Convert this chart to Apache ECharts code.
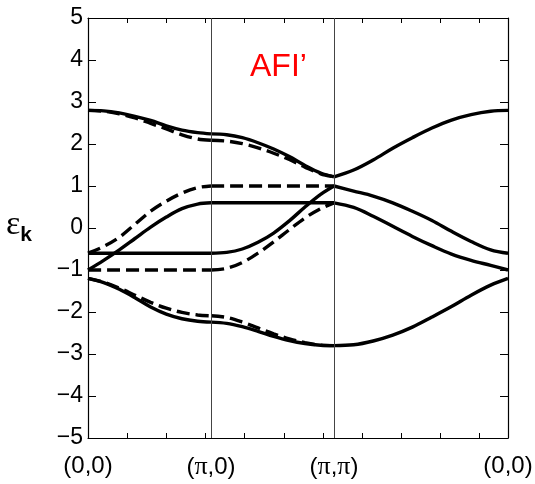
<!DOCTYPE html>
<html><head><meta charset="utf-8">
<script src="https://cdn.jsdelivr.net/npm/echarts@6/dist/echarts.min.js"></script>
<style>html,body{margin:0;padding:0;background:#fff}#c{width:535px;height:484px}</style>
</head><body><div id="c"></div>
<script>
const PI = Math.PI;
// high-symmetry points along the path (0,0)->(pi,0)->(pi,pi)->(0,0)
const pathNodes = [0, PI, 2 * PI, (2 + Math.SQRT2) * PI];
const nodeLabels = ['(0,0)', '({p|π},0)', '({p|π},{p|π})', '(0,0)'];
const xMinorTicks = [1, 2, 3, 4, 5, 6, 7, 8, 9, 10];
const yTickValues = [-5, -4, -3, -2, -1, 0, 1, 2, 3, 4, 5];

// sample positions within each segment
const segT = [0, 0.4, 0.8, 1.2, 1.6, 2.0, 2.4, 2.8, 3.1416];
const diagS = [0, 0.5, 1.0, 1.5, 2.0, 2.5, 3.0, 3.5, 4.0, 4.443];

// segment 1: (0,0) -> (pi,0)
const s1TopSolid  = [2.80, 2.79, 2.74, 2.66, 2.56, 2.43, 2.33, 2.27, 2.24];
const s1TopDash   = [2.80, 2.78, 2.72, 2.62, 2.49, 2.36, 2.22, 2.12, 2.09];
const s1RiseSolid = [-1.00, -0.77, -0.52, -0.25, 0.02, 0.26, 0.46, 0.57, 0.60];
const s1RiseDash  = [-0.60, -0.44, -0.22, 0.09, 0.40, 0.64, 0.83, 0.96, 1.00];
const s1FlatSolid = [-0.60, -0.60, -0.60, -0.60, -0.60, -0.60, -0.60, -0.60, -0.60];
const s1FlatDash  = [-1.00, -1.00, -1.00, -1.00, -1.00, -1.00, -1.00, -1.00, -1.00];
const s1BotSolid  = [-1.20, -1.30, -1.46, -1.66, -1.88, -2.05, -2.16, -2.22, -2.24];
const s1BotDash   = [-1.20, -1.29, -1.43, -1.60, -1.77, -1.91, -2.01, -2.07, -2.09];

// segment 2: (pi,0) -> (pi,pi)
const s2TopSolid  = [2.24, 2.22, 2.15, 2.03, 1.88, 1.70, 1.49, 1.31, 1.22];
const s2TopDash   = [2.09, 2.07, 2.01, 1.91, 1.78, 1.63, 1.45, 1.29, 1.22];
const s2RiseSolid = [-0.60, -0.58, -0.50, -0.34, -0.12, 0.17, 0.50, 0.80, 1.00];
const s2RiseDash  = [-1.00, -0.96, -0.82, -0.60, -0.33, -0.04, 0.24, 0.46, 0.60];
const s2FlatSolid = [0.60, 0.60, 0.60, 0.60, 0.60, 0.60, 0.60, 0.60, 0.60];
const s2FlatDash  = [1.00, 1.00, 1.00, 1.00, 1.00, 1.00, 1.00, 1.00, 1.00];
const s2BotSolid  = [-2.24, -2.27, -2.35, -2.46, -2.58, -2.68, -2.75, -2.79, -2.80];
const s2BotDash   = [-2.09, -2.13, -2.24, -2.38, -2.52, -2.64, -2.73, -2.79, -2.80];

// segment 3: (pi,pi) -> (0,0)
const s3Top  = [1.22, 1.38, 1.62, 1.90, 2.15, 2.38, 2.57, 2.70, 2.78, 2.80];
const s3MidA = [1.00, 0.88, 0.76, 0.60, 0.40, 0.18, -0.08, -0.32, -0.52, -0.60];
const s3MidB = [0.60, 0.49, 0.28, 0.04, -0.20, -0.42, -0.62, -0.77, -0.89, -1.00];
const s3Bot  = [-2.80, -2.78, -2.69, -2.55, -2.36, -2.12, -1.87, -1.60, -1.36, -1.20];

function pts(offset, xs, ys) { return xs.map((x, i) => [offset + x, ys[i]]); }
function line(data, dashed) {
  return {
    type: 'line', data: data, showSymbol: false, smooth: 0.35, silent: true,
    z: dashed ? 2 : 3,
    lineStyle: { color: '#000', width: 3.4, type: dashed ? [13, 6] : 'solid', cap: 'butt' }
  };
}
const series = [];
[s1TopDash, s1RiseDash, s1FlatDash, s1BotDash].forEach(a => series.push(line(pts(pathNodes[0], segT, a), true)));
[s2TopDash, s2RiseDash, s2FlatDash, s2BotDash].forEach(a => series.push(line(pts(pathNodes[1], segT, a), true)));
[s1TopSolid, s1RiseSolid, s1FlatSolid, s1BotSolid].forEach(a => series.push(line(pts(pathNodes[0], segT, a), false)));
[s2TopSolid, s2RiseSolid, s2FlatSolid, s2BotSolid].forEach(a => series.push(line(pts(pathNodes[1], segT, a), false)));
[s3Top, s3MidA, s3MidB, s3Bot].forEach(a => series.push(line(pts(pathNodes[2], diagS, a), false)));
series[0].markLine = {
  symbol: 'none', silent: true, label: { show: false },
  lineStyle: { color: '#444', width: 1, type: 'solid' },
  emphasis: { disabled: true },
  data: [{ xAxis: pathNodes[1] }, { xAxis: pathNodes[2] }]
};

const FONT = 'Liberation Sans';
const axisLineStyle = { color: '#000', width: 1.2 };
const chart = echarts.init(document.getElementById('c'), null, { renderer: 'canvas' });
chart.setOption({
  animation: false,
  backgroundColor: '#fff',
  title: { text: 'AFI’', left: 245, top: 46, textStyle: { color: '#ff0000', fontSize: 32, fontWeight: 'normal', fontFamily: FONT } },
  grid: { left: 88, right: 27, top: 18, bottom: 46, containLabel: false, outerBoundsMode: 'none' },
  xAxis: [{
    type: 'value', min: pathNodes[0], max: pathNodes[3], position: 'bottom',
    axisLine: { show: true, onZero: false, lineStyle: axisLineStyle },
    axisTick: { show: true, inside: true, length: 5, customValues: xMinorTicks, lineStyle: { color: '#000', width: 1 } },
    axisLabel: {
      show: true, customValues: pathNodes, showMinLabel: true, showMaxLabel: true,
      formatter: function (v) {
        let best = 0;
        pathNodes.forEach((p, i) => { if (Math.abs(p - v) < Math.abs(pathNodes[best] - v)) best = i; });
        return nodeLabels[best];
      },
      margin: 16, fontSize: 24, color: '#000', fontFamily: FONT,
      rich: { p: { fontFamily: 'Liberation Serif', fontSize: 26, color: '#000' } }
    },
    splitLine: { show: false }
  }, {
    type: 'value', min: pathNodes[0], max: pathNodes[3], position: 'top',
    axisLine: { show: true, onZero: false, lineStyle: axisLineStyle },
    axisTick: { show: true, inside: true, length: 5, customValues: xMinorTicks, lineStyle: { color: '#000', width: 1 } },
    axisLabel: { show: false }, splitLine: { show: false }
  }],
  yAxis: [{
    type: 'value', min: -5, max: 5, interval: 1, position: 'left',
    axisLine: { show: true, onZero: false, lineStyle: axisLineStyle },
    axisTick: { show: true, inside: true, length: 8, lineStyle: { color: '#000', width: 1 } },
    axisLabel: {
      formatter: v => (v < 0 ? '−' + (-v) : '' + v),
      fontSize: 23, margin: 5, color: '#000', fontFamily: FONT
    },
    splitLine: { show: false },
    name: '{e|ε}{k|k}', nameLocation: 'middle', nameRotate: 0, nameGap: 56,
    nameTextStyle: {
      rich: {
        e: { fontFamily: 'Liberation Serif', fontSize: 34, color: '#000', padding: [0, 0, 6, 0] },
        k: { fontFamily: FONT, fontSize: 21, fontWeight: 'bold', color: '#000', padding: [14, 0, 0, 0] }
      }
    }
  }, {
    type: 'value', min: -5, max: 5, interval: 1, position: 'right',
    axisLine: { show: true, onZero: false, lineStyle: axisLineStyle },
    axisTick: { show: true, inside: true, length: 8, lineStyle: { color: '#000', width: 1 } },
    axisLabel: { show: false }, splitLine: { show: false }
  }],
  series: series
});
</script>
</body></html>
